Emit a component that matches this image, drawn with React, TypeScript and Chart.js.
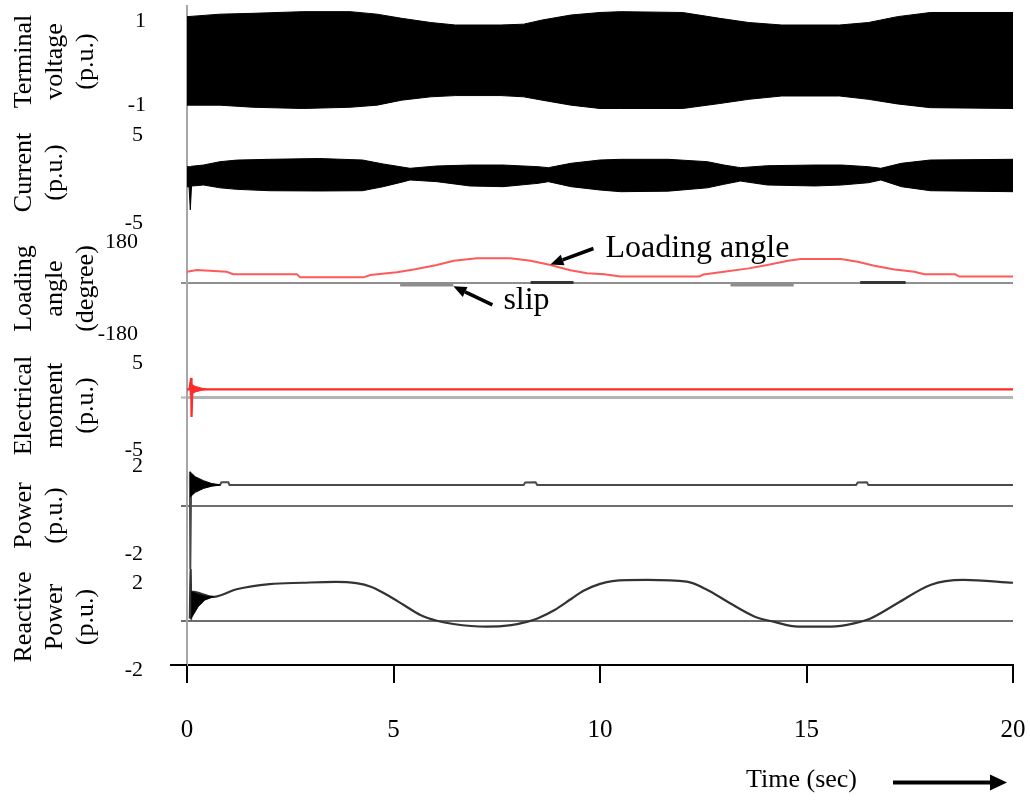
import React, { useEffect, useRef } from 'react';
import { Chart, registerables } from 'chart.js';

Chart.register(...registerables);

const SERIF = '"Liberation Serif", "Times New Roman", Times, serif';

// ---------- tick values ----------
const timeTicks = [0, 5, 10, 15, 20];
const voltageTicks = [-1, 0, 1];
const currentTicks = [-5, 0, 5];
const angleTicks = [-180, 0, 180];
const momentTicks = [-5, 0, 5];
const powerTicks = [-2, 0, 2];
const reactiveTicks = [-2, 0, 2];

// ---------- axis titles ----------
const voltageTitle = ['Terminal', 'voltage', '(p.u.)'];
const currentTitle = ['Current', '(p.u.)'];
const angleTitle = ['Loading', 'angle', '(degree)'];
const momentTitle = ['Electrical', 'moment', '(p.u.)'];
const powerTitle = ['Power', '(p.u.)'];
const reactiveTitle = ['Reactive', 'Power', '(p.u.)'];
const timeTitle = 'Time (sec)';

// ---------- terminal voltage envelope (p.u.) ----------
const vT = [0, 0.8, 1.6, 2.8, 3.95, 4.6, 5.2, 5.9, 6.5, 7.6, 8.15, 8.6, 9.3, 10.0, 10.5, 12.0, 12.9, 13.6, 14.4, 15.8, 16.5, 17.2, 18.0, 20.0];
const vUpper = [1.05, 1.11, 1.13, 1.17, 1.17, 1.11, 1.01, 0.91, 0.85, 0.85, 0.87, 0.97, 1.09, 1.15, 1.17, 1.15, 1.01, 0.91, 0.85, 0.85, 0.91, 1.05, 1.15, 1.15];
const vLower = [-1.07, -1.07, -1.12, -1.15, -1.12, -1.07, -0.95, -0.87, -0.84, -0.84, -0.87, -0.95, -1.07, -1.15, -1.15, -1.15, -1.03, -0.93, -0.85, -0.85, -0.93, -1.04, -1.13, -1.15];

// ---------- current envelope (p.u.) ----------
const iT = [0, 0.05, 0.08, 0.11, 0.4, 0.8, 1.2, 2.0, 3.2, 4.25, 4.75, 5.25, 5.4, 6.05, 6.85, 7.65, 8.5, 8.75, 9.3, 10.0, 10.5, 11.65, 12.6, 13.0, 13.4, 14.05, 15.2, 15.85, 16.5, 16.8, 17.3, 18.0, 20.0];
const iUpper = [1.0, 1.0, 1.0, 1.05, 1.19, 1.57, 1.75, 1.84, 1.93, 1.76, 1.31, 0.93, 0.82, 1.08, 1.19, 1.19, 1.0, 0.89, 1.39, 1.76, 1.84, 1.84, 1.57, 1.19, 0.89, 1.11, 1.19, 1.19, 1.0, 0.82, 1.39, 1.76, 1.84];
const iLower = [-1.27, -1.3, -3.9, -1.2, -1.08, -1.4, -1.57, -1.73, -1.76, -1.73, -1.27, -0.7, -0.51, -0.7, -1.19, -1.27, -0.89, -0.7, -1.27, -1.65, -1.84, -1.78, -1.4, -1.0, -0.63, -1.08, -1.19, -1.08, -0.82, -0.51, -1.27, -1.73, -1.84];

// ---------- loading angle (degree) ----------
const aT = [0, 0.24, 0.96, 1.12, 2.66, 2.74, 4.27, 4.44, 5.08, 5.49, 6.05, 6.46, 7.02, 7.83, 8.32, 8.8, 9.28, 9.69, 10.1, 10.5, 12.4, 12.5, 13.0, 13.6, 14.05, 14.55, 14.86, 15.83, 16.24, 16.64, 17.13, 17.61, 17.85, 18.6, 18.7, 20];
const aV = [42, 49, 42, 32, 32, 20, 20, 29, 40, 51, 68, 85, 94, 94, 85, 68, 48, 36, 32, 23, 23, 31, 42, 55, 68, 85, 91, 91, 81, 65, 51, 42, 32, 32, 23, 23];

// ---------- slip (same panel) ----------
const slipT = [5.16, 6.45, 6.46, 8.32, 9.36, 9.37, 13.16, 14.69, 14.7, 16.3, 17.4];
const slipV = [-9.7, -9.7, null, 0, 0, null, -9.7, -9.7, null, 0, 0];

// ---------- electrical moment (p.u.) ----------
const mT = [0, 0.06, 0.1, 0.11, 0.13, 0.5, 20];
const mV = [0.9, 0.9, 2.22, -2.29, 0.9, 0.91, 0.91];
const mEnvT = [0.06, 0.2, 0.35, 0.48];
const mEnvHi = [1.64, 1.25, 1.05, 0.92];
const mEnvLo = [0.25, 0.6, 0.8, 0.9];

// ---------- active power (p.u.) ----------
const pT = [0.05, 0.07, 0.08, 0.1, 0.8, 0.83, 0.86, 1.0, 1.03, 8.15, 8.19, 8.44, 8.48, 16.2, 16.24, 16.46, 16.5, 20];
const pV = [0.95, 1.56, -2.9, 1.0, 0.95, 1.07, 1.08, 1.08, 0.95, 0.95, 1.07, 1.08, 0.95, 0.95, 1.07, 1.08, 0.95, 0.95];
const pEnvT = [0.07, 0.2, 0.4, 0.6, 0.8];
const pEnvHi = [1.56, 1.33, 1.15, 1.02, 0.96];
const pEnvLo = [0.4, 0.62, 0.8, 0.9, 0.95];

// ---------- reactive power (p.u.) ----------
const qT = [0.07, 0.09, 0.1, 0.12, 0.64, 1.2, 2.0, 2.8, 3.6, 4.1, 4.45, 4.85, 5.25, 5.65, 6.05, 6.45, 7.25, 7.85, 8.25, 8.5, 8.9, 9.3, 9.6, 10.0, 10.3, 11.15, 12.1, 12.6, 13.15, 13.75, 14.2, 14.8, 15.6, 16.15, 16.55, 17.2, 18.0, 18.8, 20.0];
const qV = [0.12, 2.82, 0.05, 1.36, 1.12, 1.47, 1.71, 1.77, 1.81, 1.75, 1.59, 1.2, 0.74, 0.28, 0.01, -0.14, -0.26, -0.19, -0.03, 0.13, 0.51, 1.02, 1.4, 1.72, 1.85, 1.9, 1.82, 1.44, 0.82, 0.2, -0.03, -0.26, -0.26, -0.11, 0.12, 0.82, 1.67, 1.9, 1.77];
const qEnvT = [0.1, 0.27, 0.43, 0.64];
const qEnvHi = [1.36, 1.25, 1.16, 1.12];
const qEnvLo = [0.12, 0.66, 0.97, 1.12];

// ---------- annotations (anchored in data space) ----------
const noteTexts = ['Loading angle', 'slip'];
const noteTimes = [8.8, 6.45];
const noteValues = [70, -15];

type Pt = { x: number; y: number | null };
const pts = (t: number[], v: (number | null)[]): Pt[] => t.map((x, i) => ({ x, y: v[i] }));

interface AxisCfg {
  weight: number;
  stackWeight: number;
  min: number;
  max: number;
  ticks: number[];
  title: string[];
  labelOffset: number;
  padding: number;
  zeroColor: string;
  zeroWidth: number;
}

function makeYAxis(c: AxisCfg): any {
  const zc = (ctx: any) => (ctx.tick && ctx.tick.value === 0 ? c.zeroColor : 'rgba(0,0,0,0)');
  return {
    type: 'linear',
    position: 'left',
    stack: 'panels',
    stackWeight: c.stackWeight,
    weight: c.weight,
    min: c.min,
    max: c.max,
    afterBuildTicks: (s: any) => {
      s.ticks = c.ticks.map((value) => ({ value }));
    },
    afterFit: (s: any) => {
      s.width = 187;
      s.paddingTop = 0;
      s.paddingBottom = 0;
    },
    ticks: {
      autoSkip: false,
      callback: (v: number) => (v === 0 ? '' : String(v)),
      color: '#000',
      font: { family: SERIF, size: 22 },
      padding: c.padding,
      labelOffset: c.labelOffset,
    },
    grid: {
      drawOnChartArea: true,
      drawTicks: true,
      tickLength: 6,
      color: zc,
      tickColor: zc,
      lineWidth: c.zeroWidth,
      tickWidth: 2,
    },
    border: { display: true, color: '#a6a6a6', width: 2 },
    title: {
      display: true,
      text: c.title,
      color: '#000',
      font: { family: SERIF, size: 26, lineHeight: 1.2 },
      padding: { top: 8.6, bottom: 0 },
    },
  };
}

function drawArrow(ctx: CanvasRenderingContext2D, x0: number, y0: number, x1: number, y1: number, lw: number, headLen: number, headW: number) {
  const ang = Math.atan2(y1 - y0, x1 - x0);
  const bx = x1 - headLen * Math.cos(ang);
  const by = y1 - headLen * Math.sin(ang);
  ctx.strokeStyle = '#000';
  ctx.lineWidth = lw;
  ctx.lineCap = 'butt';
  ctx.beginPath();
  ctx.moveTo(x0, y0);
  ctx.lineTo(bx, by);
  ctx.stroke();
  ctx.fillStyle = '#000';
  ctx.beginPath();
  ctx.moveTo(x1, y1);
  ctx.lineTo(bx + (headW / 2) * Math.sin(ang), by - (headW / 2) * Math.cos(ang));
  ctx.lineTo(bx - (headW / 2) * Math.sin(ang), by + (headW / 2) * Math.cos(ang));
  ctx.closePath();
  ctx.fill();
}

const notesPlugin = {
  id: 'notes',
  afterDraw(chart: any) {
    const { ctx, chartArea, scales } = chart;
    const xs = scales.x;
    const ya = scales.yA;
    ctx.save();
    // x axis line extends a little left of the y axes
    ctx.strokeStyle = '#000';
    ctx.lineWidth = 2;
    ctx.beginPath();
    ctx.moveTo(chartArea.left - 17, xs.top);
    ctx.lineTo(chartArea.left, xs.top);
    ctx.stroke();

    ctx.font = `32px ${SERIF}`;
    ctx.textAlign = 'left';
    ctx.textBaseline = 'alphabetic';

    const hx = xs.getPixelForValue(noteTimes[0]);
    const hy = ya.getPixelForValue(noteValues[0]);
    drawArrow(ctx, hx + 43, hy - 16, hx, hy, 3.5, 13, 11);
    ctx.fillStyle = '#000';
    ctx.fillText(noteTexts[0], hx + 55, hy - 8);

    const sx = xs.getPixelForValue(noteTimes[1]);
    const sy = ya.getPixelForValue(noteValues[1]);
    drawArrow(ctx, sx + 39, sy + 18.5, sx, sy, 3.5, 13, 11);
    ctx.fillStyle = '#000';
    ctx.fillText(noteTexts[1], sx + 50, sy + 23);

    const ay = xs.bottom - 17.5;
    drawArrow(ctx, chartArea.right - 120, ay, chartArea.right - 6, ay, 4, 17, 16);
    ctx.restore();
  },
};

const line = (extra: any) => ({
  pointRadius: 0,
  pointHoverRadius: 0,
  tension: 0,
  fill: false,
  ...extra,
});

export default function App() {
  const ref = useRef<HTMLCanvasElement>(null);

  useEffect(() => {
    const canvas = ref.current;
    if (!canvas) return;
    const chart = new Chart(canvas, {
      type: 'line',
      data: {
        datasets: [
          line({ label: 'Terminal voltage (upper)', yAxisID: 'yV', data: pts(vT, vUpper), borderColor: '#000', borderWidth: 1, backgroundColor: '#000', fill: '+1' }),
          line({ label: 'Terminal voltage (lower)', yAxisID: 'yV', data: pts(vT, vLower), borderColor: '#000', borderWidth: 1 }),
          line({ label: 'Current (upper)', yAxisID: 'yI', data: pts(iT, iUpper), borderColor: '#000', borderWidth: 1, backgroundColor: '#000', fill: '+1' }),
          line({ label: 'Current (lower)', yAxisID: 'yI', data: pts(iT, iLower), borderColor: '#000', borderWidth: 1 }),
          line({ label: 'Loading angle', yAxisID: 'yA', data: pts(aT, aV), borderColor: '#ff5a5a', borderWidth: 2 }),
          line({
            label: 'slip',
            yAxisID: 'yA',
            data: pts(slipT, slipV),
            borderColor: '#3a3a3a',
            borderWidth: 3,
            spanGaps: false,
            segment: { borderColor: (c: any) => (c.p0.parsed.y < -5 ? '#8d8d8d' : '#353535') },
          }),
          line({ label: 'Electrical moment (transient hi)', yAxisID: 'yT', data: pts(mEnvT, mEnvHi), borderColor: '#ff2a2a', borderWidth: 1, backgroundColor: '#ff2a2a', fill: '+1' }),
          line({ label: 'Electrical moment (transient lo)', yAxisID: 'yT', data: pts(mEnvT, mEnvLo), borderColor: '#ff2a2a', borderWidth: 1 }),
          line({ label: 'Electrical moment', yAxisID: 'yT', data: pts(mT, mV), borderColor: '#ff2a2a', borderWidth: 2.2 }),
          line({ label: 'Power (transient hi)', yAxisID: 'yP', data: pts(pEnvT, pEnvHi), borderColor: '#000', borderWidth: 1, backgroundColor: '#000', fill: '+1' }),
          line({ label: 'Power (transient lo)', yAxisID: 'yP', data: pts(pEnvT, pEnvLo), borderColor: '#000', borderWidth: 1 }),
          line({ label: 'Power', yAxisID: 'yP', data: pts(pT, pV), borderColor: '#4a4a4a', borderWidth: 2 }),
          line({ label: 'Reactive power (transient hi)', yAxisID: 'yQ', data: pts(qEnvT, qEnvHi), borderColor: '#000', borderWidth: 1, backgroundColor: '#000', fill: '+1' }),
          line({ label: 'Reactive power (transient lo)', yAxisID: 'yQ', data: pts(qEnvT, qEnvLo), borderColor: '#000', borderWidth: 1 }),
          line({ label: 'Reactive power', yAxisID: 'yQ', data: pts(qT, qV), borderColor: '#333', borderWidth: 2.2, cubicInterpolationMode: 'monotone' }),
        ],
      },
      options: {
        responsive: false,
        animation: false,
        devicePixelRatio: 1,
        events: [],
        layout: { padding: { top: 6, right: 17, bottom: 0, left: 0 } },
        plugins: {
          legend: { display: false },
          tooltip: { enabled: false },
          title: { display: false },
        },
        scales: {
          x: {
            type: 'linear',
            position: 'bottom',
            min: 0,
            max: 20,
            afterBuildTicks: (s: any) => {
              s.ticks = timeTicks.map((value) => ({ value }));
            },
            afterFit: (s: any) => {
              s.height = 135;
              s.paddingLeft = 0;
              s.paddingRight = 0;
            },
            ticks: { autoSkip: false, color: '#000', font: { family: SERIF, size: 25 }, padding: 32, maxRotation: 0 },
            grid: { drawOnChartArea: false, drawTicks: true, tickLength: 18, tickColor: '#000', tickWidth: 2, color: '#000', lineWidth: 2 },
            border: { display: true, color: '#000', width: 2 },
            title: {
              display: true,
              text: timeTitle + '\u2003\u2003\u2003\u2003\u2003\u2003',
              align: 'end',
              color: '#000',
              font: { family: SERIF, size: 26, lineHeight: 1.2 },
              padding: { top: 0, bottom: 4 },
            },
          },
          yV: makeYAxis({ weight: 6, stackWeight: 111, min: -1.3533, max: 1.3054, ticks: voltageTicks, title: voltageTitle, labelOffset: 2.75, padding: 35, zeroColor: 'rgba(0,0,0,0)', zeroWidth: 1 }),
          yI: makeYAxis({ weight: 5, stackWeight: 111, min: -5.9659, max: 6.6477, ticks: currentTicks, title: currentTitle, labelOffset: 3.5, padding: 38, zeroColor: 'rgba(0,0,0,0)', zeroWidth: 1 }),
          yA: makeYAxis({ weight: 4, stackWeight: 121, min: -258.81, max: 212.11, ticks: angleTicks, title: angleTitle, labelOffset: 5.75, padding: 43, zeroColor: '#8f8f8f', zeroWidth: 2 }),
          yT: makeYAxis({ weight: 3, stackWeight: 113, min: -7.4913, max: 5.5723, ticks: momentTicks, title: momentTitle, labelOffset: 9.5, padding: 38, zeroColor: '#b4b4b4', zeroWidth: 3 }),
          yP: makeYAxis({ weight: 2, stackWeight: 107, min: -2.8636, max: 2.0, ticks: powerTicks, title: powerTitle, labelOffset: 4.5, padding: 38, zeroColor: '#6e6e6e', zeroWidth: 2 }),
          yQ: makeYAxis({ weight: 1, stackWeight: 96, min: -2.037, max: 2.4074, ticks: reactiveTicks, title: reactiveTitle, labelOffset: 5.7, padding: 38, zeroColor: '#6e6e6e', zeroWidth: 2 }),
        },
      } as any,
      plugins: [notesPlugin],
    });
    return () => chart.destroy();
  }, []);

  return (
    <div style={{ position: 'fixed', left: 0, top: 0, width: 1030, height: 800, background: '#fff' }}>
      <canvas ref={ref} width={1030} height={800} style={{ display: 'block', width: 1030, height: 800 }} />
    </div>
  );
}
